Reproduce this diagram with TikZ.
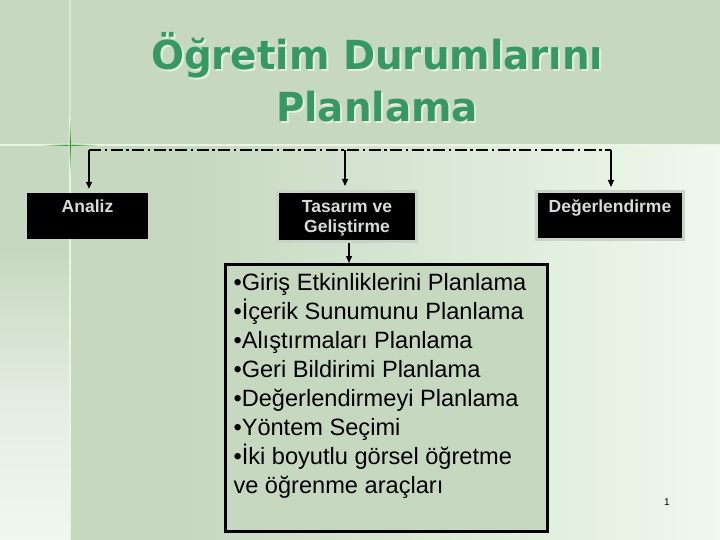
\documentclass[tikz,border=0pt]{standalone}
\usepackage{fontspec}
\setmainfont{Liberation Sans}
\newfontfamily\titlefont[FakeStretch=0.97]{DejaVu Sans}
\usetikzlibrary{arrows.meta}
\definecolor{bgA}{RGB}{198,216,192}
\definecolor{bgB}{RGB}{239,249,238}
\definecolor{bgM}{RGB}{226,236,224}
\definecolor{tgreen}{RGB}{56,152,100}
\definecolor{tshadow}{RGB}{228,238,224}
\definecolor{boxtxt}{RGB}{216,220,216}
\definecolor{frameC}{RGB}{202,212,198}
\definecolor{lineC}{RGB}{234,246,228}
\definecolor{spark}{RGB}{40,140,30}
\newcommand{\shadowtext}[1]{\rlap{\hspace{2pt}\raisebox{-2pt}{\color{tshadow}#1}}#1}
\tikzset{
  blackbox/.style={fill=black, text=boxtxt, inner sep=0pt, font=\fontsize{17.5}{21}\selectfont\bfseries},
  framed/.style={draw=frameC, line width=3pt},
  listbox/.style={fill=bgA, draw=black, line width=3pt, inner xsep=8pt, inner ysep=0pt, font=\fontsize{23.6}{29}\selectfont},
  titletxt/.style={font=\titlefont\bfseries\fontsize{40}{52}\selectfont, anchor=base, text=tgreen},
  dashbar/.style={line width=2.4pt, dash pattern=on 12pt off 3.5pt on 2.5pt off 3.5pt},
  arr/.style={line width=1.3pt, -{Triangle[length=7pt,width=6pt]}}
}
\begin{document}
\begin{tikzpicture}[x=1pt,y=1pt]
\useasboundingbox (0,0) rectangle (720,-540);
% background
\fill[bgA] (0,0) rectangle (720,-145);
\fill[bgA] (0,-145) rectangle (70,-250);
\shade[top color=bgA, bottom color=bgB, middle color=bgM] (0,-250) rectangle (70,-540);
\fill[bgA] (70,-145) rectangle (180,-540);
\shade[left color=bgA, right color=bgB] (180,-145) rectangle (720,-540);
% decorative lines
\draw[lineC, line width=1.8pt, opacity=0.5] (70,0) -- (70,-120);
\draw[lineC, line width=1.8pt] (70,-120) -- (70,-540);
\draw[lineC, line width=1.8pt] (0,-145) -- (720,-145);
\shade[inner color=spark, outer color=lineC] (70,-145) ellipse (32 and 1.3);
\shade[inner color=spark, outer color=lineC] (70,-145) ellipse (1.3 and 30);
% title
\node[titletxt] (title1) at (377,-70) {\shadowtext{Öğretim Durumlarını}};
\node[titletxt] (title2) at (377,-122) {\shadowtext{Planlama}};
% boxes
\node[blackbox, minimum width=121pt, minimum height=46pt] (an) at (87.5,-216)
  {\parbox[c][46pt][t]{121pt}{\centering\rule{0pt}{19pt}Analiz}};
\node[blackbox, framed, minimum width=139pt, minimum height=50pt] (ta) at (347,-216.5)
  {\parbox[c][50pt][t]{139pt}{\centering\rule{0pt}{20.5pt}Tasarım ve\\Geliştirme}};
\node[blackbox, framed, minimum width=147pt, minimum height=48pt] (de) at (610,-215.5)
  {\parbox[c][48pt][t]{147pt}{\centering\rule{0pt}{20.5pt}Değerlendirme}};
\node[listbox, minimum width=322pt, minimum height=267pt] (li) at (386.5,-398)
  {\parbox[c][267pt][t]{306pt}{\raggedright\rule{0pt}{25.5pt}•Giriş Etkinliklerini Planlama\\
  •İçerik Sunumunu Planlama\\
  •Alıştırmaları Planlama\\
  •Geri Bildirimi Planlama\\
  •Değerlendirmeyi Planlama\\
  •Yöntem Seçimi\\
  •İki boyutlu görsel öğretme\\
  ve öğrenme araçları}};
% connectors
\coordinate (barL) at (89,-150);
\coordinate (barM) at (345,-150);
\coordinate (barR) at (611,-150);
\draw[dashbar] (barL) -- (barR);
\draw[arr, shorten >=4pt] (barL) -- (barL |- an.north);
\draw[arr, shorten >=4pt] (barM) -- (barM |- ta.north);
\draw[arr, shorten >=3pt] (barR) -- (barR |- de.north);
\draw[arr] ([xshift=2pt]ta.south) -- ([xshift=2pt]ta.south |- li.north);
% page number
\node[font=\fontsize{10}{12}\selectfont, anchor=base] (pg) at (667,-505) {1};
\end{tikzpicture}
\end{document}
